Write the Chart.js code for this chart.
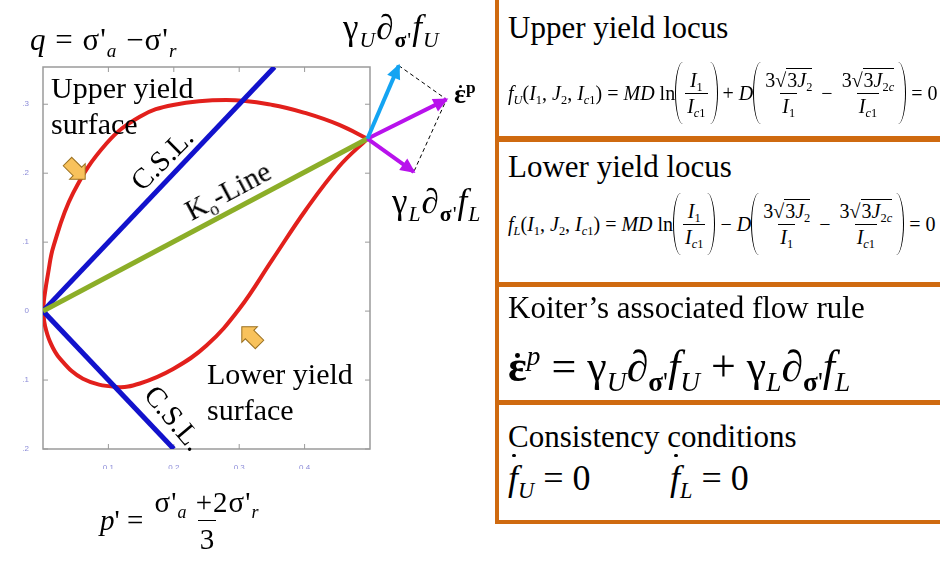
<!DOCTYPE html>
<html>
<head>
<meta charset="utf-8">
<script src="https://cdn.jsdelivr.net/npm/chart.js@4"></script>
<style>
  body{margin:0;width:940px;height:566px;overflow:hidden;background:#fff;position:relative}
  #wrap{position:absolute;left:0;top:0;width:495px;height:566px}
  .t{position:absolute;font-family:'Liberation Serif','Times New Roman',serif;line-height:1;white-space:nowrap;color:#000}
  .t sub{font-size:0.62em;vertical-align:-0.35em;line-height:0}
  .t sup{font-size:0.62em;vertical-align:0.6em;line-height:0}
  .rot{transform:translate(-50%,-50%) rotate(var(--a))}
  .eq{display:flex;align-items:center;font-size:20px;height:66px}
  .fr{display:inline-flex;flex-direction:column;align-items:center;margin:0 2px}
  .fr>span{padding:0 2px;line-height:1.25}
  .fr>span+span{border-top:1px solid #000}
  .lp,.rp{display:inline-block;width:8px;height:62px;box-sizing:border-box}
  .lp{border-left:1.2px solid #000;border-radius:100% 0 0 100%/50% 0 0 50%}
  .rp{border-right:1.2px solid #000;border-radius:0 100% 100% 0/0 50% 50% 0}
  .sq{border-top:1px solid #000;padding-left:1px}
  .dot{position:relative;font-weight:bold}
  .dot::after{content:'';position:absolute;left:50%;top:0.26em;width:0.11em;height:0.11em;margin-left:-0.05em;border-radius:50%;background:#000}
  .fd::after{left:62%;top:-0.12em;width:0.09em;height:0.09em}
  .bar{position:absolute;background:#cf6a10}
  .ws{letter-spacing:1px}
</style>
</head>
<body>
<div id="wrap"><canvas id="yield" width="495" height="566"></canvas></div>

<!-- left annotations -->
<div class="t ws" style="left:30px;top:24px;font-size:31px"><i>q</i> = σ'<sub><i>a</i></sub> −σ'<sub><i>r</i></sub></div>
<div class="t ws" style="left:343px;top:10px;font-size:35px">γ<sub><i>U</i></sub>∂<sub><b>σ</b>'</sub><i>f</i><sub><i>U</i></sub></div>
<div class="t" style="left:454px;top:80px;font-size:28px"><span class="dot">ε</span><sup><b>p</b></sup></div>
<div class="t ws" style="left:392px;top:184px;font-size:35px">γ<sub><i>L</i></sub>∂<sub><b>σ</b>'</sub><i>f</i><sub><i>L</i></sub></div>
<div class="t" style="left:51px;top:70px;font-size:30px;line-height:36px">Upper yield<br>surface</div>
<div class="t" style="left:207px;top:356px;font-size:30px;line-height:36px">Lower yield<br>surface</div>
<div class="t rot" style="left:162px;top:159px;font-size:29px;--a:-45deg">C.S.L.</div>
<div class="t rot" style="left:228px;top:191px;font-size:29px;--a:-28deg">K<sub>o</sub>-Line</div>
<div class="t rot" style="left:174px;top:418px;font-size:29px;--a:50deg">C.S.L.</div>
<div class="t" style="left:100px;top:484px;font-size:29px;display:flex;align-items:center">
  <span><i>p</i>' =&nbsp;</span>
  <span class="fr"><span class="ws">σ'<sub><i>a</i></sub> +2σ'<sub><i>r</i></sub></span><span>3</span></span>
</div>
<svg style="position:absolute;left:0;top:0" width="495" height="566">
  <g transform="translate(76,170) rotate(45)"><path d="M-12,-6 L2,-6 L2,-11 L13,0 L2,11 L2,6 L-12,6 Z" fill="#f8c25c" stroke="#9a7020" stroke-width="1"/></g>
  <g transform="translate(251,336) rotate(-135)"><path d="M-12,-6 L2,-6 L2,-11 L13,0 L2,11 L2,6 L-12,6 Z" fill="#f8c25c" stroke="#9a7020" stroke-width="1"/></g>
</svg>

<!-- right panel -->
<div class="bar" style="left:495px;top:0;width:4px;height:524px"></div>
<div class="bar" style="left:495px;top:136px;width:445px;height:6px"></div>
<div class="bar" style="left:495px;top:282px;width:445px;height:5px"></div>
<div class="bar" style="left:495px;top:400px;width:445px;height:5px"></div>
<div class="bar" style="left:495px;top:520px;width:445px;height:4px"></div>

<div class="t" style="left:508px;top:12px;font-size:31px">Upper yield locus</div>
<div class="t eq" style="left:508px;top:60px">
  <span><i>f</i><sub><i>U</i></sub>(<i>I</i><sub>1</sub>, <i>J</i><sub>2</sub>, <i>I</i><sub><i>c</i>1</sub>) = <i>MD</i> ln</span>
  <span class="lp"></span><span class="fr"><span><i>I</i><sub>1</sub></span><span><i>I</i><sub><i>c</i>1</sub></span></span><span class="rp"></span>
  <span>&nbsp;+ <i>D</i></span>
  <span class="lp"></span><span class="fr"><span>3√<span class="sq">3<i>J</i><sub>2</sub></span></span><span><i>I</i><sub>1</sub></span></span>
  <span>&nbsp;−&nbsp;</span>
  <span class="fr"><span>3√<span class="sq">3<i>J</i><sub>2<i>c</i></sub></span></span><span><i>I</i><sub><i>c</i>1</sub></span></span><span class="rp"></span>
  <span>&nbsp;= 0</span>
</div>

<div class="t" style="left:508px;top:151px;font-size:31px">Lower yield locus</div>
<div class="t eq" style="left:508px;top:191px">
  <span><i>f</i><sub><i>L</i></sub>(<i>I</i><sub>1</sub>, <i>J</i><sub>2</sub>, <i>I</i><sub><i>c</i>1</sub>) = <i>MD</i> ln</span>
  <span class="lp"></span><span class="fr"><span><i>I</i><sub>1</sub></span><span><i>I</i><sub><i>c</i>1</sub></span></span><span class="rp"></span>
  <span>&nbsp;− <i>D</i></span>
  <span class="lp"></span><span class="fr"><span>3√<span class="sq">3<i>J</i><sub>2</sub></span></span><span><i>I</i><sub>1</sub></span></span>
  <span>&nbsp;−&nbsp;</span>
  <span class="fr"><span>3√<span class="sq">3<i>J</i><sub>2<i>c</i></sub></span></span><span><i>I</i><sub><i>c</i>1</sub></span></span><span class="rp"></span>
  <span>&nbsp;= 0</span>
</div>

<div class="t" style="left:508px;top:292px;font-size:31px">Koiter’s associated flow rule</div>
<div class="t" style="left:508px;top:345px;font-size:44px"><span class="dot">ε</span><sup><i>p</i></sup> = γ<sub><i>U</i></sub>∂<sub><b>σ</b>'</sub><i>f</i><sub><i>U</i></sub> + γ<sub><i>L</i></sub>∂<sub><b>σ</b>'</sub><i>f</i><sub><i>L</i></sub></div>

<div class="t" style="left:508px;top:421px;font-size:31px">Consistency conditions</div>
<div class="t" style="left:508px;top:460px;font-size:36px"><i class="dot fd" style="font-weight:normal">f</i><sub><i>U</i></sub> = 0</div>
<div class="t" style="left:670px;top:460px;font-size:36px"><i class="dot fd" style="font-weight:normal">f</i><sub><i>L</i></sub> = 0</div>

<script>
// axis ticks
const xTicks = [0.1, 0.2, 0.3, 0.4];
const yTicks = [-0.2, -0.1, 0, 0.1, 0.2, 0.3];

// yield surfaces (p', q)
const upperX = [0, 0.002, 0.008, 0.016, 0.046, 0.097, 0.148, 0.199, 0.28, 0.351, 0.402, 0.453, 0.496];
const upperY = [0, 0.02, 0.056, 0.094, 0.171, 0.243, 0.282, 0.299, 0.306, 0.299, 0.287, 0.27, 0.25];
const lowerX = [0, 0.003, 0.011, 0.026, 0.061, 0.112, 0.148, 0.199, 0.25, 0.30, 0.351, 0.402, 0.453, 0.496];
const lowerY = [0, -0.021, -0.045, -0.069, -0.098, -0.110, -0.105, -0.084, -0.05, 0.003, 0.075, 0.147, 0.21, 0.25];

// critical state lines and K0 line
const cslUpX = [0, 0.354];
const cslUpY = [0, 0.354];
const cslLowX = [0, 0.2];
const cslLowY = [0, -0.2];
const k0X = [0, 0.496];
const k0Y = [0, 0.25];

// flow vectors from the apex
const gUX = [0.496, 0.544];
const gUY = [0.25, 0.356];
const gLX = [0.496, 0.567];
const gLY = [0.25, 0.202];
const epX = [0.496, 0.617];
const epY = [0.25, 0.307];
const dashX = [0.544, 0.617, 0.567];
const dashY = [0.356, 0.307, 0.202];

const pts = (xs, ys) => xs.map((x, i) => ({x: x, y: ys[i]}));
const fmt = v => v === 0 ? '0' : v.toFixed(1);

const frame = {
    id: 'frame',
    beforeDatasetsDraw(chart) {
        const {ctx, chartArea: a, scales} = chart;
        ctx.save();
        ctx.strokeStyle = '#9a9a9a';
        ctx.lineWidth = 1.5;
        ctx.strokeRect(a.left, a.top, a.right - a.left, a.bottom - a.top);
        ctx.lineWidth = 1;
        ctx.beginPath();
        xTicks.forEach(v => {
            const px = scales.x.getPixelForValue(v);
            ctx.moveTo(px, a.bottom); ctx.lineTo(px, a.bottom - 5);
            ctx.moveTo(px, a.top); ctx.lineTo(px, a.top + 5);
        });
        yTicks.forEach(v => {
            const py = scales.y.getPixelForValue(v);
            ctx.moveTo(a.left, py); ctx.lineTo(a.left + 5, py);
            ctx.moveTo(a.right, py); ctx.lineTo(a.right - 5, py);
        });
        ctx.stroke();
        ctx.restore();
    }
};

const arrowHeads = {
    id: 'arrowHeads',
    afterDatasetsDraw(chart) {
        const ctx = chart.ctx;
        chart.data.datasets.forEach((ds, i) => {
            if (!ds.arrow) return;
            const pts = chart.getDatasetMeta(i).data;
            const p0 = pts[pts.length - 2], p1 = pts[pts.length - 1];
            const ang = Math.atan2(p1.y - p0.y, p1.x - p0.x);
            ctx.save();
            ctx.translate(p1.x, p1.y);
            ctx.rotate(ang);
            ctx.fillStyle = ds.borderColor;
            ctx.beginPath();
            ctx.moveTo(2, 0);
            ctx.lineTo(-13, -7);
            ctx.lineTo(-13, 7);
            ctx.closePath();
            ctx.fill();
            ctx.restore();
        });
    }
};

new Chart(document.getElementById("yield"), {
    type: 'line',
    data: {
        datasets: [
            {data: pts(gUX, gUY), borderColor: '#14a4f2', borderWidth: 4, arrow: true, clip: false, tension: 0},
            {data: pts(epX, epY), borderColor: '#b812ec', borderWidth: 4, arrow: true, clip: false, tension: 0},
            {data: pts(gLX, gLY), borderColor: '#b812ec', borderWidth: 4, arrow: true, clip: false, tension: 0},
            {data: pts(dashX, dashY), borderColor: '#000', borderWidth: 1, borderDash: [4, 3], clip: false, tension: 0},
            {data: pts(k0X, k0Y), borderColor: '#8cae28', borderWidth: 5, tension: 0},
            {data: pts(cslUpX, cslUpY), borderColor: '#1212cc', borderWidth: 5, tension: 0},
            {data: pts(cslLowX, cslLowY), borderColor: '#1212cc', borderWidth: 5, tension: 0},
            {data: pts(upperX, upperY), borderColor: '#e2201c', borderWidth: 4, tension: 0.4},
            {data: pts(lowerX, lowerY), borderColor: '#e2201c', borderWidth: 4, tension: 0.4}
        ]
    },
    options: {
        responsive: false,
        animation: false,
        devicePixelRatio: 1,
        elements: {point: {radius: 0, hoverRadius: 0}},
        layout: {padding: {left: 23, right: 125, top: 67, bottom: 97}},
        plugins: {legend: {display: false}, tooltip: {enabled: false}},
        scales: {
            x: {
                type: 'linear', min: 0, max: 0.5,
                grid: {display: false}, border: {display: false},
                afterBuildTicks: s => { s.ticks = xTicks.map(v => ({value: v})); },
                afterFit: s => { s.height = 20; },
                ticks: {padding: 6, color: '#8c8cd8', font: {size: 8}, callback: fmt}
            },
            y: {
                type: 'linear', min: -0.2, max: 0.354,
                grid: {display: false}, border: {display: false},
                afterBuildTicks: s => { s.ticks = yTicks.map(v => ({value: v})); },
                afterFit: s => { s.width = 20; },
                ticks: {padding: 6, color: '#8c8cd8', font: {size: 8}, callback: fmt}
            }
        }
    },
    plugins: [frame, arrowHeads]
});
</script>
</body>
</html>
